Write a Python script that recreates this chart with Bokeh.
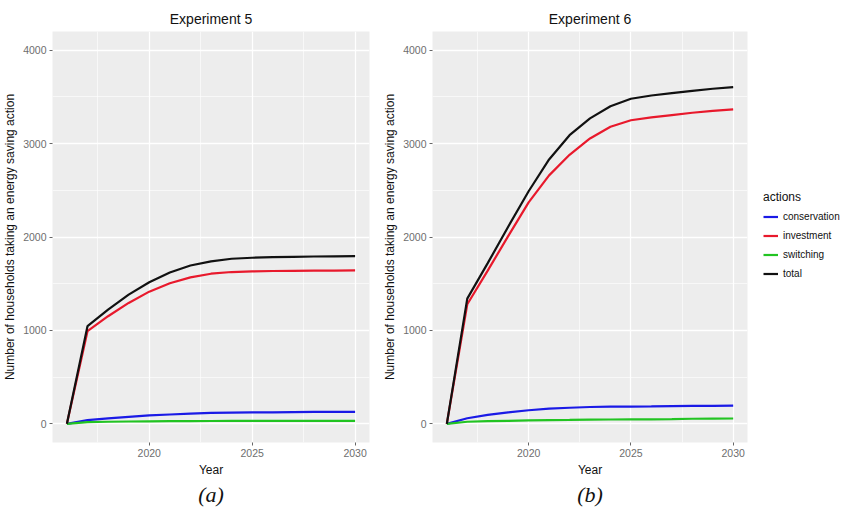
from bokeh.plotting import figure
from bokeh.layouts import row
from bokeh.models import FixedTicker, Legend, LegendItem, Title, Range1d
from bokeh.embed import file_html
from bokeh.resources import INLINE

years = list(range(2016, 2031))

# Experiment 5
exp5_conservation = [0, 40, 58, 75, 90, 100, 110, 118, 120, 122, 122, 125, 128, 128, 128]
exp5_investment = [0, 992, 1152, 1294, 1415, 1505, 1568, 1607, 1625, 1632, 1636, 1638, 1640, 1641, 1642]
exp5_switching = [0, 18, 22, 25, 27, 28, 29, 30, 31, 31, 31, 31, 32, 32, 32]
exp5_total = [0, 1045, 1223, 1383, 1515, 1620, 1695, 1739, 1767, 1778, 1784, 1788, 1791, 1793, 1795]

# Experiment 6
exp6_conservation = [0, 60, 95, 122, 145, 162, 172, 180, 183, 185, 186, 190, 192, 193, 195]
exp6_investment = [0, 1280, 1640, 2010, 2370, 2660, 2880, 3055, 3180, 3250, 3280, 3305, 3330, 3350, 3367]
exp6_switching = [0, 22, 28, 32, 36, 40, 42, 45, 46, 47, 48, 50, 54, 56, 57]
exp6_total = [0, 1340, 1720, 2110, 2490, 2830, 3090, 3270, 3400, 3480, 3515, 3540, 3565, 3587, 3605]

series_names = ["conservation", "investment", "switching", "total"]
series_colors = ["#1A1AE6", "#E8192C", "#22C422", "#111111"]

x_ticks = [2020, 2025, 2030]
x_minor = [2017.5, 2022.5, 2027.5]
y_ticks = [0, 1000, 2000, 3000, 4000]
y_minor = [500, 1500, 2500, 3500]

FONT = "Liberation Sans"


def make_panel(title, caption, data, width, left, right, caption_offset=0):
    p = figure(width=width, height=510, output_backend="svg", toolbar_location=None,
               x_range=Range1d(2015.3, 2030.7), y_range=Range1d(-200, 4200),
               min_border_left=left, min_border_right=right,
               min_border_top=31, min_border_bottom=68)
    p.title.text = title
    p.title.align = "center"
    p.title.text_font = FONT
    p.title.text_font_size = "14px"
    p.title.text_font_style = "normal"
    p.title.text_color = "#111111"
    p.title.standoff = 10
    p.background_fill_color = "#EDEDED"
    p.border_fill_color = "white"
    p.outline_line_color = None

    p.xaxis.ticker = FixedTicker(ticks=x_ticks, minor_ticks=x_minor)
    p.yaxis.ticker = FixedTicker(ticks=y_ticks, minor_ticks=y_minor)
    p.xaxis.axis_label = "Year"
    p.yaxis.axis_label = "Number of households taking an energy saving action"
    for ax in (p.xaxis[0], p.yaxis[0]):
        ax.axis_line_color = None
        ax.major_tick_line_color = "#666666"
        ax.major_tick_out = 3
        ax.major_tick_in = 0
        ax.minor_tick_line_color = None
        ax.major_label_text_font = FONT
        ax.major_label_text_font_size = "10.5px"
        ax.major_label_text_color = "#6E6E6E"
        ax.major_label_standoff = 2
        ax.axis_label_text_font = FONT
        ax.axis_label_text_font_size = "12px"
        ax.axis_label_text_font_style = "normal"
        ax.axis_label_text_color = "#111111"
        ax.axis_label_standoff = 3
    for g in (p.xgrid[0], p.ygrid[0]):
        g.grid_line_color = "white"
        g.grid_line_width = 1.3
        g.minor_grid_line_color = "white"
        g.minor_grid_line_width = 0.6

    renderers = []
    for vals, col in zip(data, series_colors):
        r = p.line(years, vals, line_color=col, line_width=2.2)
        renderers.append(r)

    cap = Title(text=caption, align="center", text_font="Liberation Serif",
                text_font_style="italic", text_font_size="22px", text_color="#111111",
                offset=caption_offset, standoff=1)
    p.add_layout(cap, "below")
    return p, renderers


p1, _ = make_panel("Experiment 5", "(a)",
                   [exp5_conservation, exp5_investment, exp5_switching, exp5_total],
                   380, 50, 11)
p2, _ = make_panel("Experiment 6", "(b)",
                   [exp6_conservation, exp6_investment, exp6_switching, exp6_total],
                   383, 48, 16, caption_offset=-7)

# legend panel: key renderers sit outside its visible range, only the legend shows
p3 = figure(width=80, height=510, output_backend="svg", toolbar_location=None,
            x_axis_location=None, y_axis_location=None,
            x_range=Range1d(0, 1), y_range=Range1d(0, 1),
            min_border_left=0, min_border_right=0, min_border_top=0, min_border_bottom=0)
p3.outline_line_color = None
p3.background_fill_color = "white"
p3.border_fill_color = "white"
p3.xgrid.visible = False
p3.ygrid.visible = False
keys = [p3.line(x=[-10, -9], y=[-10, -9], line_color=c, line_width=2.2) for c in series_colors]

legend = Legend(items=[LegendItem(label=n, renderers=[r]) for n, r in zip(series_names, keys)],
                title="actions", location=(0, 159))
legend.title_text_font = FONT
legend.title_text_font_size = "12px"
legend.title_text_font_style = "normal"
legend.title_text_color = "#111111"
legend.title_standoff = 3
legend.label_text_font = FONT
legend.label_text_font_size = "10px"
legend.label_text_color = "#111111"
legend.glyph_width = 15
legend.glyph_height = 19
legend.label_height = 19
legend.label_standoff = 5
legend.spacing = 0
legend.padding = 0
legend.margin = 0
legend.background_fill_alpha = 0
legend.border_line_color = None
p3.add_layout(legend, "center")

layout = row(p1, p2, p3)
open("out.html", "w").write(file_html(layout, INLINE))
